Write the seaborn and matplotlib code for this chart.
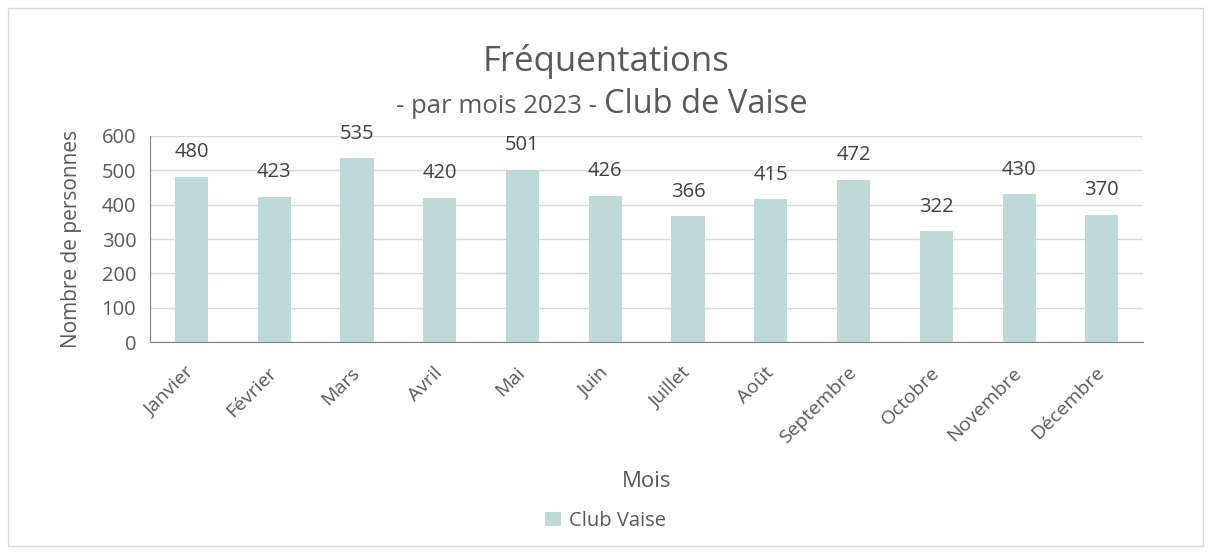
import pandas as pd
import matplotlib.pyplot as plt
import seaborn as sns
from matplotlib.patches import Rectangle

# data
mois = ['Janvier', 'Février', 'Mars', 'Avril', 'Mai', 'Juin', 'Juillet',
        'Août', 'Septembre', 'Octobre', 'Novembre', 'Décembre']
personnes = [480, 423, 535, 420, 501, 426, 366, 415, 472, 322, 430, 370]

df = pd.DataFrame({'Mois': mois, 'Nombre de personnes': personnes})

sns.set_style('white')
plt.rcParams['font.family'] = ['Open Sans', 'DejaVu Sans']
grey = '#595959'
bar_color = '#BFD9D8'

fig = plt.figure(figsize=(12.11, 5.52), dpi=100)
ax = fig.add_axes([0.124, 0.380, 0.820, 0.374])

sns.barplot(data=df, x='Mois', y='Nombre de personnes', color=bar_color,
            saturation=1, linewidth=0, width=0.4, ax=ax, label='Club Vaise', zorder=3)

ax.set_ylim(0, 600)
ax.set_yticks(range(0, 601, 100))
ax.yaxis.grid(True, color='#D9D9D9', linewidth=1, zorder=0)
ax.set_axisbelow(True)
for s in ['top', 'right']:
    ax.spines[s].set_visible(False)
ax.spines['left'].set_color('#7F7F7F')
ax.spines['bottom'].set_color('#7F7F7F')
ax.tick_params(axis='y', length=0, colors=grey, labelsize=14.5, pad=10)
ax.tick_params(axis='x', length=0, colors=grey, labelsize=14, pad=20)
plt.setp(ax.get_xticklabels(), rotation=45, ha='right', va='center', rotation_mode='anchor')

# value labels
for i, v in enumerate(personnes):
    ax.annotate(str(v), (i, v), xytext=(0, 10.5), textcoords='offset points',
                ha='center', va='bottom', fontsize=14.5, color='#404040')

ax.set_xlabel('Mois', fontsize=16, color=grey, labelpad=17)
ax.set_ylabel('Nombre de personnes', fontsize=15, color=grey, labelpad=14)

# title
fig.text(0.5, 0.871, 'Fréquentations', ha='center', va='baseline', fontsize=25, color=grey)
sub = fig.text(0.5, 0.795, '- par mois 2023 - ', ha='right', va='baseline', fontsize=18.5, color=grey)
sub2 = fig.text(0.5, 0.795, 'Club de Vaise', ha='left', va='baseline', fontsize=23.5, color=grey)
fig.canvas.draw()
w1 = sub.get_window_extent().width
w2 = sub2.get_window_extent().width
shift = (w1 + w2) / 2 - w1
sub.set_x(0.5 + shift / fig.bbox.width)
sub2.set_x(0.5 + shift / fig.bbox.width)

# legend
handles, labels = ax.get_legend_handles_labels()
if ax.get_legend():
    ax.get_legend().remove()
fig.legend(handles, labels, loc='center', bbox_to_anchor=(0.5, 0.056), frameon=False,
           fontsize=14.5, labelcolor=grey, handlelength=0.75, handleheight=0.75, handletextpad=0.4)

# outer frame of the chart
fig.patches.append(Rectangle((0.007, 0.01), 0.986, 0.975, transform=fig.transFigure,
                             fill=False, edgecolor='#D9D9D9', linewidth=1))

plt.savefig('out.png', dpi=100)
